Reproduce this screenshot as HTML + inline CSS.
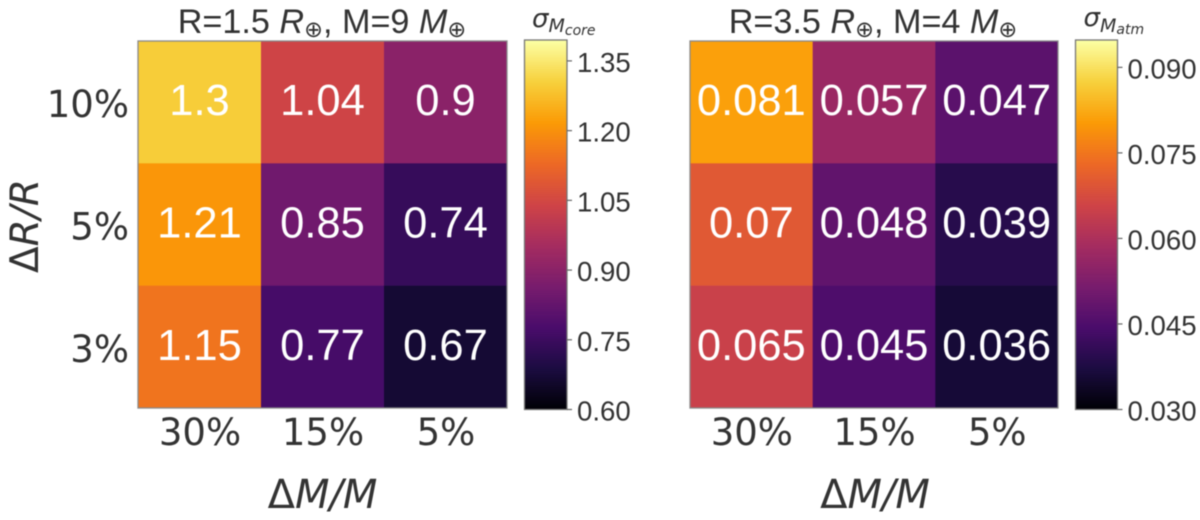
<!DOCTYPE html>
<html lang="en">
<head>
<meta charset="utf-8">
<title>Mass uncertainty heatmaps</title>
<style>
html,body{margin:0;padding:0;background:#fff;width:1200px;height:520px;overflow:hidden}
svg{display:block;filter:blur(.4px)}
</style>
</head>
<body>
<svg id="fig" xmlns="http://www.w3.org/2000/svg" width="1200" height="520" viewBox="0 0 1200 520">
  <text x="322" y="33" text-anchor="middle" fill="#333" font-size="34.2" font-family="'Liberation Sans',sans-serif">R=1.5 <tspan font-style="italic">R</tspan><tspan font-family="'DejaVu Sans',sans-serif" font-size="22.5" dy="4">⊕</tspan><tspan dy="-4">, M=9 </tspan><tspan font-style="italic">M</tspan><tspan font-family="'DejaVu Sans',sans-serif" font-size="22.5" dy="4">⊕</tspan></text>
  <text x="873" y="33" text-anchor="middle" fill="#333" font-size="34.2" font-family="'Liberation Sans',sans-serif">R=3.5 <tspan font-style="italic">R</tspan><tspan font-family="'DejaVu Sans',sans-serif" font-size="22.5" dy="4">⊕</tspan><tspan dy="-4">, M=4 </tspan><tspan font-style="italic">M</tspan><tspan font-family="'DejaVu Sans',sans-serif" font-size="22.5" dy="4">⊕</tspan></text>
  <text transform="translate(38,226) rotate(-90)" text-anchor="middle" fill="#333" font-size="39" font-family="'DejaVu Sans',sans-serif"><tspan>Δ</tspan><tspan font-style="italic">R/R</tspan></text>
  <text x="322.5" y="508" text-anchor="middle" fill="#333" font-size="40" font-family="'DejaVu Sans',sans-serif"><tspan>Δ</tspan><tspan font-style="italic">M/M</tspan></text>
  <text x="875" y="508" text-anchor="middle" fill="#333" font-size="40" font-family="'DejaVu Sans',sans-serif"><tspan>Δ</tspan><tspan font-style="italic">M/M</tspan></text>
  <text x="532" y="27" fill="#333" font-size="26" font-style="italic" font-family="'DejaVu Sans',sans-serif">σ<tspan font-size="19" dy="5">M</tspan><tspan font-size="14" dy="3">core</tspan></text>
  <text x="1083.5" y="26" fill="#333" font-size="26" font-style="italic" font-family="'DejaVu Sans',sans-serif">σ<tspan font-size="19" dy="6">M</tspan><tspan font-size="14" dy="2">atm</tspan></text>
</svg>
<script>
// Chart data
const rowLabels = ['10%', '5%', '3%'];
const colLabels = ['30%', '15%', '5%'];
const coreValues = [
  [1.3, 1.04, 0.9],
  [1.21, 0.85, 0.74],
  [1.15, 0.77, 0.67]
];
const atmValues = [
  [0.081, 0.057, 0.047],
  [0.07, 0.048, 0.039],
  [0.065, 0.045, 0.036]
];
const coreTicks = [0.60, 0.75, 0.90, 1.05, 1.20, 1.35];
const atmTicks = [0.030, 0.045, 0.060, 0.075, 0.090];
const coreRange = [0.60, 1.395];
const atmRange = [0.030, 0.0948];

// Inferno colormap anchors
const inferno = ['#000004', '#1b0c41', '#4a0c6b', '#781c6d', '#a52c60', '#cf4446', '#ed6925', '#fb9b06', '#f7d13d', '#fcffa4'];

const NS = 'http://www.w3.org/2000/svg';
const svg = document.getElementById('fig');

function hexToRgb(h) {
  return [1, 3, 5].map(function (i) { return parseInt(h.substr(i, 2), 16); });
}
function colormap(t) {
  const c = Math.max(0, Math.min(1, t)) * (inferno.length - 1);
  const i = Math.min(Math.floor(c), inferno.length - 2);
  const a = hexToRgb(inferno[i]);
  const b = hexToRgb(inferno[i + 1]);
  const f = c - i;
  return 'rgb(' + a.map(function (v, k) { return Math.round(v + (b[k] - v) * f); }).join(',') + ')';
}
function shape(tag, attrs, text) {
  const el = document.createElementNS(NS, tag);
  Object.keys(attrs).forEach(function (k) { el.setAttribute(k, attrs[k]); });
  if (text !== undefined) el.textContent = text;
  svg.appendChild(el);
  return el;
}

function drawPanel(cfg) {
  const norm = function (v) { return (v - cfg.range[0]) / (cfg.range[1] - cfg.range[0]); };
  const xEdge = function (i) { return cfg.x0 + (cfg.x1 - cfg.x0) * i / colLabels.length; };
  const yEdge = function (i) { return cfg.y0 + (cfg.y1 - cfg.y0) * i / rowLabels.length; };
  const cbY = function (v) { return cfg.cbBottom - (cfg.cbBottom - cfg.cbTop) * norm(v); };

  // Cells and annotations
  cfg.values.forEach(function (row, r) {
    row.forEach(function (v, c) {
      const cell = shape('rect', {
        x: xEdge(c), y: yEdge(r),
        width: xEdge(c + 1) - xEdge(c) + 0.3, height: yEdge(r + 1) - yEdge(r) + 0.3,
        fill: colormap(norm(v))
      });
      
      
    });
  });
  cfg.values.forEach(function (row, r) {
    row.forEach(function (v, c) {
      const label = shape('text', {
        x: (xEdge(c) + xEdge(c + 1)) / 2, y: (yEdge(r) + yEdge(r + 1)) / 2 + 13,
        'text-anchor': 'middle', fill: '#fff', 'font-size': 43.5,
        'font-family': "'Liberation Sans',sans-serif"
      }, String(v));
      
      
    });
  });

  // Heatmap frame
  const frame = shape('rect', {
    x: cfg.x0, y: cfg.y0, width: cfg.x1 - cfg.x0, height: cfg.y1 - cfg.y0,
    fill: 'none', stroke: '#8a8a8a', 'stroke-width': 1.3
  });
  
  

  // Column labels
  colLabels.forEach(function (t, c) {
    const el = shape('text', {
      x: (xEdge(c) + xEdge(c + 1)) / 2 + 0.5, y: 445, 'text-anchor': 'middle',
      fill: '#333', 'font-size': 37, 'font-family': "'DejaVu Sans',sans-serif"
    }, t);
    
    
  });

  // Row labels (left panel only)
  if (cfg.showRows) {
    rowLabels.forEach(function (t, r) {
      const el = shape('text', {
        x: 129, y: (yEdge(r) + yEdge(r + 1)) / 2 + 15, 'text-anchor': 'end',
        fill: '#333', 'font-size': 37, 'font-family': "'DejaVu Sans',sans-serif"
      }, t);
      
      
    });
  }

  // Colorbar ramp
  const steps = 180;
  for (let i = 0; i < steps; i++) {
    const h = (cfg.cbBottom - cfg.cbTop) / steps;
    const seg = shape('rect', {
      x: cfg.cbX0, y: cfg.cbBottom - (i + 1) * h,
      width: cfg.cbX1 - cfg.cbX0, height: h + 0.4,
      fill: colormap((i + 0.5) / steps)
    });
    
    
  }
  const cbFrame = shape('rect', {
    x: cfg.cbX0, y: cfg.cbTop, width: cfg.cbX1 - cfg.cbX0, height: cfg.cbBottom - cfg.cbTop,
    fill: 'none', stroke: '#777', 'stroke-width': 1.3
  });
  
  

  // Colorbar ticks
  cfg.ticks.forEach(function (t) {
    const y = cbY(t);
    const tick = shape('line', {
      x1: cfg.cbX1, x2: cfg.cbX1 + 5, y1: y, y2: y, stroke: '#666', 'stroke-width': 1.2
    });
    
    
    const label = shape('text', {
      x: cfg.cbX1 + 10, y: y + 11, fill: '#333', 'font-size': 27.6,
      'font-family': "'Liberation Sans',sans-serif"
    }, t.toFixed(cfg.decimals));
    
    
  });
}

drawPanel({
  values: coreValues, ticks: coreTicks, range: coreRange, decimals: 2, showRows: true,
  x0: 138, x1: 507, y0: 41, y1: 408, cbX0: 524.5, cbX1: 567, cbTop: 40, cbBottom: 409.5
});
drawPanel({
  values: atmValues, ticks: atmTicks, range: atmRange, decimals: 3, showRows: false,
  x0: 690, x1: 1058, y0: 41, y1: 408, cbX0: 1075.5, cbX1: 1117.5, cbTop: 40, cbBottom: 409.5
});
</script>
</body>
</html>
